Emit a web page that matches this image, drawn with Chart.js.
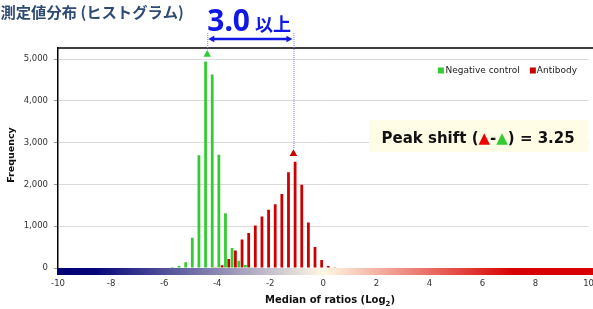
<!DOCTYPE html>
<html>
<head>
<meta charset="utf-8">
<script src="https://cdn.jsdelivr.net/npm/chart.js@4.4.0/dist/chart.umd.min.js"></script>
<style>
  body { margin: 0; background: #fff; }
  #wrap { width: 593px; height: 309px; }
</style>
</head>
<body>
<div id="wrap"><canvas id="chart" width="593" height="309"></canvas></div>
<script>
// bin centres of the histogram (Log2 median of ratios, 0.25 wide bins)
const bins = [-5.625, -5.375, -5.125, -4.875, -4.625, -4.375, -4.125, -3.875, -3.625,
  -3.375, -3.125, -2.875, -2.625, -2.375, -2.125, -1.875, -1.625, -1.375, -1.125,
  -0.875, -0.625, -0.375, -0.125, 0.125, 0.375];
const negativeControl = [25, 50, 140, 725, 2700, 4940, 4630, 2710, 1310, 480, 175, 70, 15,
  0, 0, 0, 0, 0, 0, 0, 0, 0, 0, 0, 0];
const antibody = [0, 0, 0, 0, 0, 0, 20, 65, 215, 420, 680, 835, 1020, 1230, 1395, 1525,
  1770, 2290, 2540, 1995, 1090, 500, 190, 50, 15];

// peak markers (triangles): [negative control, antibody]
const peakX = [-4.375, -1.125];
const peakY = [5110, 2735];

const xTicks = [-10, -8, -6, -4, -2, 0, 2, 4, 6, 8, 10];
const yTicks = [0, 1000, 2000, 3000, 4000, 5000];

const GREEN = '#33cc33';
const RED = '#cc0000';
const BLUE = '#1018e6';

const decorations = {
  id: 'decorations',
  afterDraw(chart) {
    const { ctx, chartArea: a, scales: { x, y } } = chart;
    ctx.save();

    // frame line on top of plot
    ctx.strokeStyle = '#000';
    ctx.lineWidth = 1.5;
    ctx.beginPath();
    ctx.moveTo(a.left - 0.75, a.top);
    ctx.lineTo(chart.width, a.top);
    ctx.stroke();

    // colour scale bar under the x axis
    const gx0 = x.getPixelForValue(-10), gx1 = x.getPixelForValue(10);
    const grad = ctx.createLinearGradient(gx0, 0, gx1, 0);
    grad.addColorStop(0, '#000074');
    grad.addColorStop(0.07, '#06067a');
    grad.addColorStop(0.5, '#fff8e4');
    grad.addColorStop(0.86, '#d80000');
    grad.addColorStop(1, '#d80000');
    ctx.fillStyle = grad;
    ctx.fillRect(a.left - 1, a.bottom, chart.width - a.left + 1, 7);

    // title
    ctx.fillStyle = '#2f4b73';
    ctx.font = 'bold 15.3px "Noto Sans CJK JP"';
    ctx.textAlign = 'left';
    ctx.textBaseline = 'alphabetic';
    ctx.fillText('測定値分布 (ヒストグラム)', 0.5, 18);

    // peak distance annotation
    const xg = x.getPixelForValue(peakX[0]);
    const xr = x.getPixelForValue(peakX[1]);
    ctx.fillStyle = BLUE;
    ctx.font = 'bold 30px "Noto Sans"';
    ctx.fillText('3.0', xg, 31);
    const w30 = ctx.measureText('3.0').width;
    ctx.font = 'bold 18px "Noto Sans CJK JP"';
    ctx.fillText('以上', xg + w30 + 5, 31);

    ctx.strokeStyle = '#7b7bf2';
    ctx.lineWidth = 1;
    ctx.setLineDash([1, 1]);
    [[xg, peakY[0]], [xr, peakY[1]]].forEach(([px, v]) => {
      ctx.beginPath();
      ctx.moveTo(px + 0.5, 33);
      ctx.lineTo(px + 0.5, y.getPixelForValue(v) - 5);
      ctx.stroke();
    });
    ctx.setLineDash([]);

    const ay = 39;
    ctx.strokeStyle = BLUE;
    ctx.lineWidth = 2.5;
    ctx.beginPath();
    ctx.moveTo(xg + 4, ay);
    ctx.lineTo(xr - 4, ay);
    ctx.stroke();
    ctx.fillStyle = BLUE;
    ctx.beginPath();
    ctx.moveTo(xg + 1, ay); ctx.lineTo(xg + 7, ay - 3.2); ctx.lineTo(xg + 7, ay + 3.2);
    ctx.closePath(); ctx.fill();
    ctx.beginPath();
    ctx.moveTo(xr - 1, ay); ctx.lineTo(xr - 7, ay - 3.2); ctx.lineTo(xr - 7, ay + 3.2);
    ctx.closePath(); ctx.fill();

    // legend (right aligned)
    ctx.font = '9px "DejaVu Sans"';
    ctx.textBaseline = 'middle';
    const ly = 70.5;
    const wAb = ctx.measureText('Antibody').width;
    const wNc = ctx.measureText('Negative control').width;
    const abText = 577 - wAb;
    const abBox = abText - 7;
    const ncText = abBox - 10 - wNc;
    const ncBox = ncText - 7.5;
    ctx.fillStyle = GREEN;
    ctx.fillRect(ncBox, ly - 3, 6, 6);
    ctx.fillStyle = '#222';
    ctx.fillText('Negative control', ncText, ly);
    ctx.fillStyle = RED;
    ctx.fillRect(abBox, ly - 3, 6, 6);
    ctx.fillStyle = '#222';
    ctx.fillText('Antibody', abText, ly);

    // peak shift box
    ctx.fillStyle = '#fffde6';
    ctx.fillRect(369, 120, 588 - 369, 32);
    ctx.font = 'bold 15px "DejaVu Sans"';
    ctx.textBaseline = 'alphabetic';
    const shift = (peakX[1] - peakX[0]).toFixed(2);
    const parts = [['Peak shift (', '#111'], ['▲', '#ee0000'], ['-', '#111'],
      ['▲', GREEN], [') = ' + shift, '#111']];
    let tx = 381.5;
    parts.forEach(([t, c]) => {
      ctx.fillStyle = c;
      ctx.fillText(t, tx, 142.5);
      tx += ctx.measureText(t).width;
    });

    // axis titles
    ctx.fillStyle = '#111';
    ctx.font = 'bold 9.5px "DejaVu Sans"';
    ctx.save();
    ctx.translate(14, (a.top + a.bottom) / 2 - 3);
    ctx.rotate(-Math.PI / 2);
    ctx.textAlign = 'center';
    ctx.fillText('Frequency', 0, 0);
    ctx.restore();

    const t1 = 'Median of ratios (Log', t2 = '2', t3 = ')';
    ctx.font = 'bold 10px "DejaVu Sans"';
    const w1 = ctx.measureText(t1).width, w3 = ctx.measureText(t3).width;
    ctx.font = 'bold 7px "DejaVu Sans"';
    const w2 = ctx.measureText(t2).width;
    let sx = 330 - (w1 + w2 + w3) / 2;
    ctx.font = 'bold 10px "DejaVu Sans"';
    ctx.fillText(t1, sx, 303);
    ctx.font = 'bold 7px "DejaVu Sans"';
    ctx.fillText(t2, sx + w1, 305.5);
    ctx.font = 'bold 10px "DejaVu Sans"';
    ctx.fillText(t3, sx + w1 + w2, 303);

    ctx.restore();
  }
};

const ctx = document.getElementById('chart').getContext('2d');
new Chart(ctx, {
  type: 'bar',
  data: {
    datasets: [
      {
        label: 'Negative control',
        data: bins.map((b, i) => ({ x: b, y: negativeControl[i] })),
        backgroundColor: GREEN,
        borderWidth: 0,
        barPercentage: 0.84,
        categoryPercentage: 1.0,
        order: 2,
      },
      {
        label: 'Antibody',
        data: bins.map((b, i) => ({ x: b, y: antibody[i] })),
        backgroundColor: RED,
        borderWidth: 0,
        barPercentage: 0.84,
        categoryPercentage: 1.0,
        order: 2,
      },
      {
        type: 'line',
        label: 'peaks',
        data: peakX.map((px, i) => ({ x: px, y: peakY[i] })),
        showLine: false,
        pointStyle: 'triangle',
        pointRadius: 4.4,
        pointBorderWidth: 0,
        pointBackgroundColor: [GREEN, RED],
        pointBorderColor: [GREEN, RED],
        order: 1,
      },
    ],
  },
  options: {
    responsive: false,
    animation: false,
    layout: { padding: { top: 48, right: 3, left: 0, bottom: 0 } },
    plugins: { legend: { display: false }, tooltip: { enabled: false } },
    scales: {
      x: {
        type: 'linear',
        min: -10,
        max: 10,
        offset: false,
        afterFit: (s) => { s.height = 41; s.paddingLeft = 0; s.paddingRight = 0; },
        afterBuildTicks: (s) => { s.ticks = xTicks.map((v) => ({ value: v })); },
        grid: { display: false, drawTicks: true, tickLength: 11 },
        border: { display: false },
        ticks: {
          padding: 0,
          maxRotation: 0,
          autoSkip: false,
          color: '#333',
          font: { family: 'DejaVu Sans', size: 8.5 },
          callback: (v) => String(v),
        },
      },
      y: {
        min: 0,
        max: 5265,
        afterFit: (s) => { s.width = 58; },
        afterBuildTicks: (s) => { s.ticks = yTicks.map((v) => ({ value: v })); },
        grid: { color: '#dadada', lineWidth: 1, tickColor: '#999', tickLength: 4 },
        border: { display: true, color: '#000', width: 1.5 },
        ticks: {
          padding: 6,
          color: '#333',
          font: { family: 'DejaVu Sans', size: 8.5 },
          callback: (v) => v.toLocaleString('en-US'),
        },
      },
    },
  },
  plugins: [decorations],
});
</script>
</body>
</html>
